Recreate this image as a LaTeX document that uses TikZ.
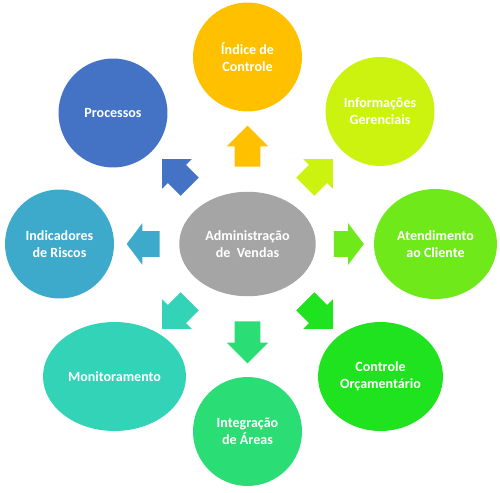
\documentclass[tikz,border=0pt]{standalone}
\usepackage{fontspec}
\setmainfont{Carlito}
\usepackage{tikz}
\usetikzlibrary{shapes.geometric, shapes.arrows, positioning}
\definecolor{centerGray}{HTML}{A5A5A5}
\definecolor{procBlue}{HTML}{4472C4}
\definecolor{indiceGold}{HTML}{FFC000}
\definecolor{infoLime}{HTML}{CCF20F}
\definecolor{atendGreen}{HTML}{70E91A}
\definecolor{orcGreen}{HTML}{1FE31F}
\definecolor{integGreen}{HTML}{2ADD74}
\definecolor{monitTeal}{HTML}{32D3B6}
\definecolor{riscosBlue}{HTML}{3DA9CB}

\begin{document}
\begin{tikzpicture}[
    x=0.02cm, y=-0.02cm,
    every node/.style={font=\fontsize{8}{9.5}\selectfont\bfseries, align=center, text=white},
    topic/.style={
        ellipse, inner sep=0pt,
        minimum width=2.18cm, minimum height=2.18cm
    },
    hub/.style={
        ellipse, inner sep=0pt, fill=centerGray,
        minimum width=2.73cm, minimum height=2.09cm
    },
    seta/.style={
        single arrow, inner xsep=0pt, inner ysep=0.25cm,
        single arrow head extend=0.16cm
    },
    setalong/.style={seta, single arrow tip angle=90},
    setacurta/.style={seta, single arrow tip angle=106},
]
\useasboundingbox (0,0) rectangle (500,493);

% === CENTER ===
\node[hub] (adm) at (247.5,244) {Administração\\de\ \ Vendas};

% === OUTER TOPICS ===
\node[topic, fill=indiceGold] (indice) at (247.5,57) {Índice de\\Controle};
\node[topic, fill=infoLime] (info) at (380,111.5) {Informações\\Gerenciais};
\node[topic, fill=atendGreen, minimum width=2.46cm, minimum height=2.2cm] (atend) at (435.5,244) {Atendimento\\ao Cliente};
\node[topic, fill=orcGreen, minimum width=2.5cm] (orc) at (380.5,376.5) {Controle\\Orçamentário};
\node[topic, fill=integGreen] (integ) at (247.5,431.5) {Integração\\de Áreas};
\node[topic, fill=monitTeal, minimum width=2.86cm] (monit) at (114.5,376.5) {Monitoramento};
\node[topic, fill=riscosBlue] (riscos) at (59.5,244) {Indicadores\\de Riscos};
\node[topic, fill=procBlue] (proc) at (113,113) {Processos};

% === ARROWS ===
% vertical
\node[setalong, fill=indiceGold, minimum height=0.82cm, rotate=90] (sindice) at (247.5,152.5) {};
\node[setalong, fill=integGreen, minimum height=0.84cm, rotate=270] (sinteg) at (247.5,336) {};

% horizontal
\node[setacurta, fill=atendGreen, minimum height=0.6cm] (satend) at (344,244) {};
\node[setacurta, fill=riscosBlue, minimum height=0.66cm, rotate=180] (sriscos) at (148,244) {};

% diagonal
\node[setalong, fill=infoLime, minimum height=0.78cm, rotate=45] (sinfo) at (314.5,177.5) {};
\node[setalong, fill=procBlue, minimum height=0.78cm, rotate=135] (sproc) at (180.5,177.5) {};
\node[setalong, fill=monitTeal, minimum height=0.78cm, rotate=225] (smonit) at (180.5,310.5) {};
\node[setalong, fill=orcGreen, minimum height=0.78cm, rotate=315] (sorc) at (314.5,310.5) {};
\end{tikzpicture}
\end{document}
